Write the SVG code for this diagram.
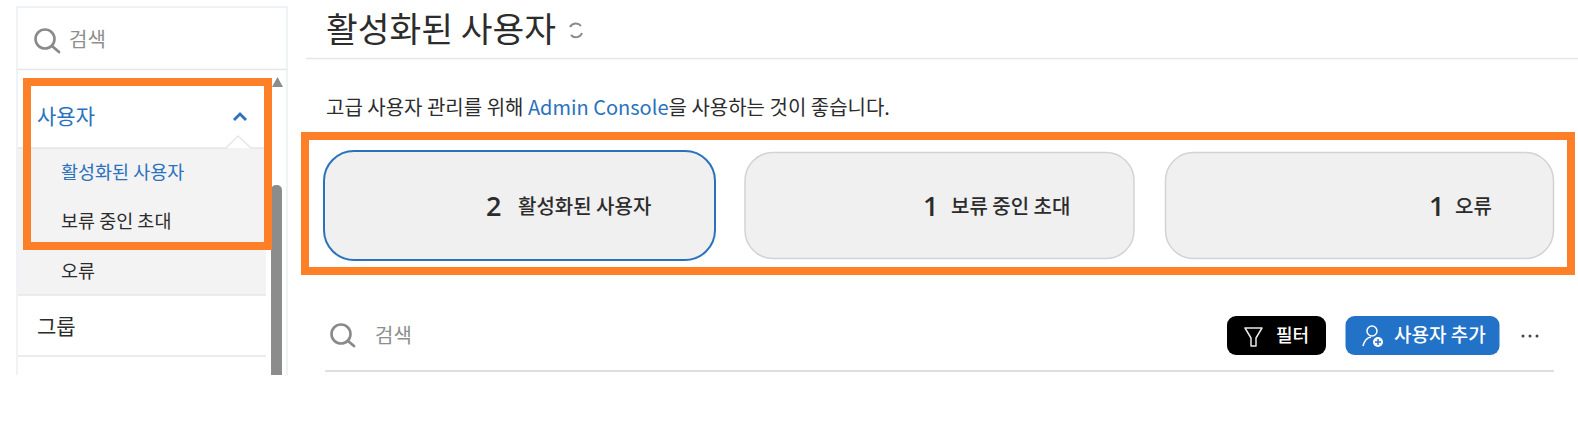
<svg xmlns="http://www.w3.org/2000/svg" width="1578" height="445" viewBox="0 0 1578 445">
<style>
text{font-family:"Noto Sans CJK KR","Noto Sans",sans-serif;fill:#2c2c2c}
.blue{fill:#2a72bd}
.gray{fill:#8e8e8e}
.card{fill:#f0f0f0;stroke:#d3d3d3;stroke-width:1.5}
.hl{fill:none;stroke:#fd7f28;stroke-width:8}
.sep{stroke:#e6e6e6;stroke-width:1.5;fill:none}
.num{font-family:"Open Sans","Noto Sans",sans-serif;font-weight:600;font-size:27px}
.lab{font-size:20px;font-weight:500}
.side{font-size:18.500px}
</style>
<rect width="1578" height="445" fill="#fff"/>
<g id="sidebar">
<path d="M17 375V7H287V375" fill="#fff" stroke="#eceff2" stroke-width="1.5"/>
<line class="sep" x1="17" y1="69.500" x2="287" y2="69.500"/>
<rect x="18" y="148" width="248" height="147" fill="#f3f3f3"/>
<path d="M18 148H226L238 136L251 148H266" fill="#fff" stroke="#e6e6e6" stroke-width="1.500"/>
<line class="sep" x1="18" y1="295" x2="266" y2="295"/>
<line class="sep" x1="18" y1="356" x2="266" y2="356"/>
<rect x="271" y="185" width="11" height="190" rx="5" fill="#8c8c8c"/>
<rect x="271" y="371" width="11" height="4" fill="#8c8c8c"/>
<path d="M272 87L277.500 77L283 87Z" fill="#8c8c8c"/>
</g>
<g id="search-top">
<circle cx="45" cy="39" r="9.500" fill="none" stroke="#8a8a8a" stroke-width="2.600"/>
<line x1="52" y1="46" x2="59" y2="52" stroke="#8a8a8a" stroke-width="2.800" stroke-linecap="round"/>
<text x="69" y="47" class="gray" font-size="20">검색</text>
</g>
<g id="nav-users">
<text x="37" y="124" class="blue" font-size="21">사용자</text>
<path d="M234 120L240 114L246 120" fill="none" stroke="#2a72bd" stroke-width="2.800"/>
</g>
<g id="nav-active"><text x="61" y="179" class="blue side">활성화된 사용자</text></g>
<g id="nav-pending"><text x="61" y="228" class="side">보류 중인 초대</text></g>
<g id="nav-errors"><text x="61" y="278" class="side">오류</text></g>
<g id="nav-groups"><text x="37" y="334" font-size="21">그룹</text></g>
<g id="heading">
<text x="326" y="42" font-size="34.500" fill="#333">활성화된 사용자</text>
<path d="M570 27A6.500 6.500 0 0 1 581 26M582 33A6.500 6.500 0 0 1 571 35" fill="none" stroke="#8a8a8a" stroke-width="2"/>
<line class="sep" x1="306" y1="58.500" x2="1578" y2="58.500"/>
</g>
<g id="note"><text x="326" y="115" font-size="20">고급 사용자 관리를 위해 <tspan class="blue">Admin Console</tspan>을 사용하는 것이 좋습니다.</text></g>
<g id="card-active">
<rect x="324" y="151" width="391" height="109" rx="30" fill="#f0f0f0" stroke="#2a72bd" stroke-width="2"/>
<text x="486" y="216" class="num">2</text>
<text x="518" y="214" class="lab">활성화된 사용자</text>
</g>
<g id="card-pending">
<rect class="card" x="745" y="152.500" width="389" height="106" rx="28"/>
<text x="923" y="216" class="num">1</text>
<text x="951" y="214" class="lab">보류 중인 초대</text>
</g>
<g id="card-errors">
<rect class="card" x="1165.500" y="152.500" width="388" height="106" rx="28"/>
<text x="1429" y="216" class="num">1</text>
<text x="1455" y="214" class="lab">오류</text>
</g>
<g id="search-main">
<circle cx="341" cy="334" r="9.500" fill="none" stroke="#8a8a8a" stroke-width="2.600"/>
<line x1="348" y1="341" x2="354" y2="346" stroke="#8a8a8a" stroke-width="2.800" stroke-linecap="round"/>
<text x="375" y="343" class="gray" font-size="20">검색</text>
<line x1="325" y1="371" x2="1554" y2="371" stroke="#d5d5d5" stroke-width="1.500"/>
</g>
<g id="btn-filter">
<rect x="1227" y="316" width="99" height="39" rx="9" fill="#000"/>
<path d="M1245 328H1262L1256 338V346L1251 346V338Z" fill="none" stroke="#e8e8e8" stroke-width="1.500" stroke-linejoin="round"/>
<text x="1276" y="342" font-size="18" font-weight="500" style="fill:#fff">필터</text>
</g>
<g id="btn-add">
<rect x="1345.500" y="316" width="154" height="39" rx="9" fill="#2272c8"/>
<circle cx="1372" cy="331" r="5" fill="none" stroke="#fff" stroke-width="1.500"/>
<path d="M1363 346Q1365 338 1371 337" fill="none" stroke="#fff" stroke-width="1.500"/>
<circle cx="1378" cy="342" r="5" fill="#fff"/>
<path d="M1375 342H1381M1378 339V345" stroke="#2272c8" stroke-width="1.500"/>
<text x="1394" y="342" font-size="19" font-weight="500" style="fill:#fff">사용자 추가</text>
</g>
<g id="btn-more" fill="#444">
<circle cx="1523" cy="336" r="1.500"/><circle cx="1530" cy="336" r="1.500"/><circle cx="1537" cy="336" r="1.500"/>
</g>
<g id="highlights">
<rect class="hl" x="27" y="82" width="241" height="164"/>
<rect class="hl" x="305" y="136" width="1266" height="135"/>
</g>
</svg>
